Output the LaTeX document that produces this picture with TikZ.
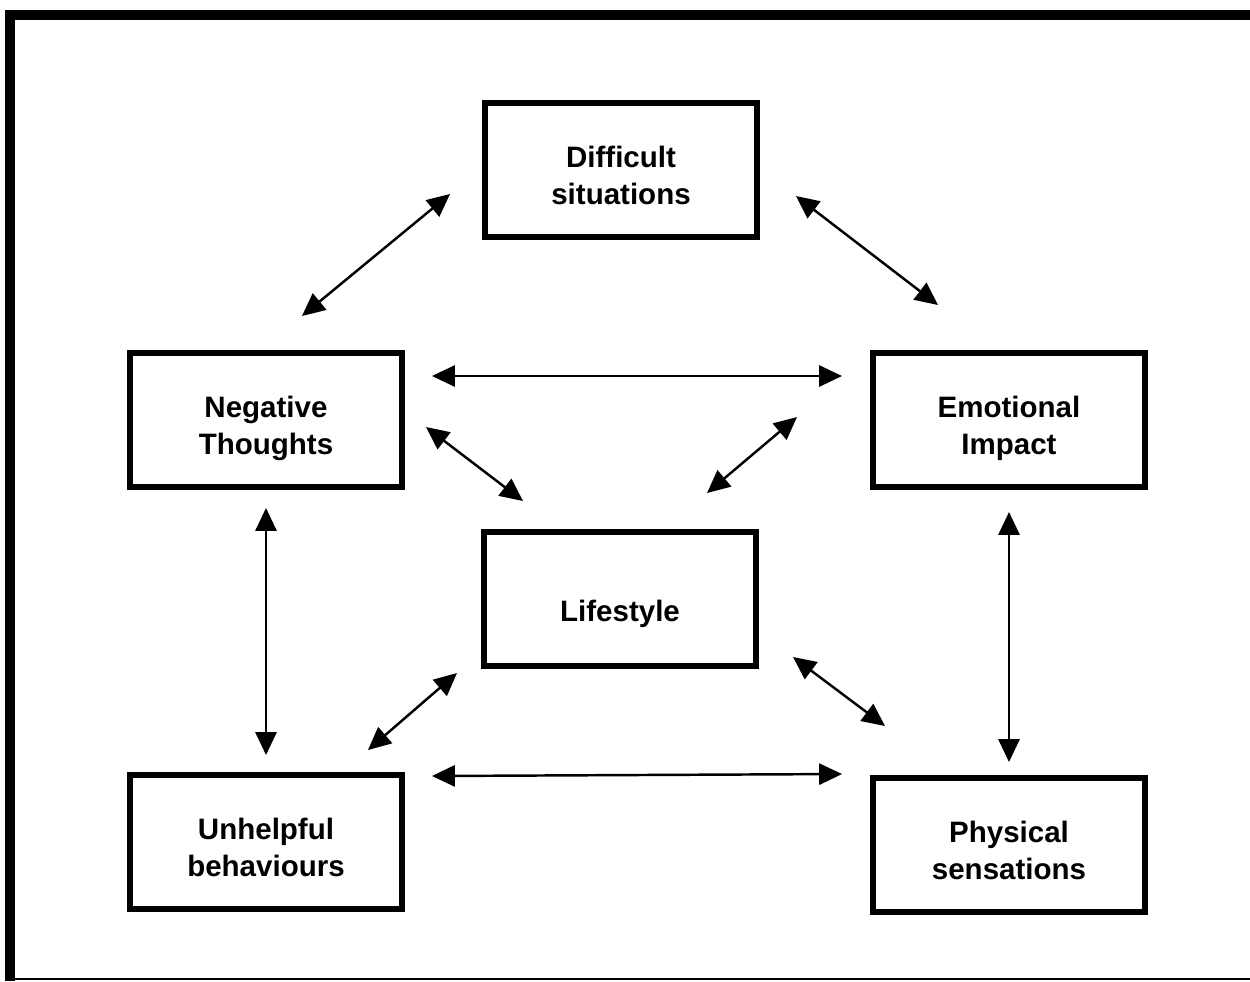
\documentclass[tikz,border=0pt]{standalone}
\usepackage{fontspec}
\setmainfont{Liberation Sans}
\usetikzlibrary{arrows.meta}
\newcommand{\topstrut}[1][22.7pt]{\rule{0pt}{#1}}
\newcommand{\botstrut}{\rule[-5pt]{0pt}{5pt}}

\begin{document}
\begin{tikzpicture}[x=0.02cm,y=-0.02cm]
\tikzset{box/.style={draw,line width=0.12cm,minimum width=5.44cm,minimum height=2.68cm,
    align=center,inner sep=0pt,font=\fontsize{16.8}{21}\selectfont\bfseries},
  link/.style={line width=1.4pt,{Triangle[length=13pt,width=12pt]}-{Triangle[length=13pt,width=12pt]}}}
\useasboundingbox (0,0) rectangle (1250,981);
% frame
\draw [line width=0.2cm] (1250,14.5) -- (10,14.5) -- (10,981);
\draw [line width=1.2pt] (5,979) -- (1250,979);
% boxes
\node [box] (dif) at (621,170) {\topstrut Difficult\\situations\botstrut};
\node [box] (neg) at (266,420) {\topstrut Negative\\Thoughts\botstrut};
\node [box] (emo) at (1009,420) {\topstrut Emotional\\Impact\botstrut};
\node [box] (life) at (620,599) {\topstrut[30.6pt]Lifestyle\botstrut};
\node [box] (unh) at (266,842) {\topstrut Unhelpful\\behaviours\botstrut};
\node [box] (phy) at (1009,845) {\topstrut Physical\\sensations\botstrut};
% arrows
\draw [link] ([shift={(-32,24)}]dif.west) -- ([shift={(36,-34)}]neg.north);
\draw [link] ([shift={(36,26)}]dif.east) -- ([shift={(-71,-45)}]emo.north);
\draw [link] ([shift={(27,-44)}]neg.east) -- ([shift={(-28,-44)}]emo.west);
\draw [link] ([shift={(21,7)}]neg.east) -- ([shift={(-97,-28)}]life.north);
\draw [link] ([shift={(-73,-3)}]emo.west) -- ([shift={(87,-36)}]life.north);
\draw [link] ([shift={(0,18)}]neg.south) -- ([shift={(0,-17)}]unh.north);
\draw [link] ([shift={(0,22)}]emo.south) -- ([shift={(0,-13)}]phy.north);
\draw [link] ([shift={(-24,4)}]life.south west) -- ([shift={(-37,-22)}]unh.north east);
\draw [link] ([shift={(34,-12)}]life.south east) -- ([shift={(15,-49)}]phy.north west);
\draw [link] ([shift={(27,4)}]unh.north east) -- ([shift={(-28,-1)}]phy.north west);
\end{tikzpicture}
\end{document}
